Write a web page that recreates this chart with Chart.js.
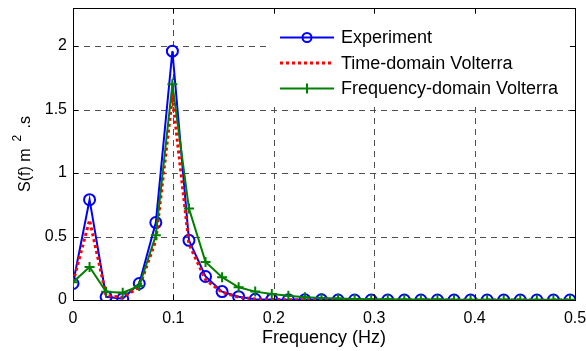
<!DOCTYPE html>
<html>
<head>
<meta charset="utf-8">
<script src="https://cdn.jsdelivr.net/npm/chart.js@4.4.0/dist/chart.umd.min.js"></script>
<style>
  html, body { margin: 0; padding: 0; background: #fff; }
  #wrap { width: 586px; height: 351px; position: relative; }
</style>
</head>
<body>
<div id="wrap"><canvas id="psd"></canvas></div>
<script>
/* frequences (Hz) et spectres S(f) */
const freq = [0, 0.0165, 0.033, 0.0495, 0.066, 0.0825, 0.099, 0.1155, 0.132, 0.1485,
              0.165, 0.1815, 0.198, 0.2145, 0.231, 0.2475, 0.264, 0.2805, 0.297, 0.3135,
              0.33, 0.3465, 0.363, 0.3795, 0.396, 0.4125, 0.429, 0.4455, 0.462, 0.4785, 0.495];
const experiment   = [0.13, 0.79, 0.025, 0.01, 0.13, 0.61, 1.96, 0.47, 0.185, 0.066,
                      0.026, 0.006, 0.003, 0.002, 0.001, 0.001, 0, 0, 0, 0,
                      0, 0, 0, 0, 0, 0, 0, 0, 0, 0, 0];
const timeVolterra = [0.14, 0.63, 0.035, 0.02, 0.1, 0.47, 1.6, 0.44, 0.16, 0.06,
                      0.022, 0.008, 0.004, 0.002, 0.001, 0.001, 0, 0, 0, 0,
                      0, 0, 0, 0, 0, 0, 0, 0, 0, 0, 0];
const freqVolterra = [0.14, 0.26, 0.065, 0.058, 0.11, 0.51, 1.70, 0.72, 0.30, 0.18,
                      0.10, 0.066, 0.047, 0.034, 0.022, 0.015, 0.011, 0.008, 0.006, 0.005,
                      0.004, 0.003, 0.003, 0.002, 0.002, 0.002, 0.001, 0.001, 0.001, 0.001, 0.001];
const xTicks = [0, 0.1, 0.2, 0.3, 0.4, 0.5];
const xTickLabels = ['0', '0.1', '0.2', '0.3', '0.4', '0.5'];
const yTicks = [0, 0.5, 1, 1.5, 2];
const yTickLabels = ['0', '0.5', '1', '1.5', '2'];
const seriesNames = ['Experiment', 'Time-domain Volterra', 'Frequency-domain Volterra'];

const FONT = '"Liberation Sans", Arial, sans-serif';
const pts = ys => freq.map((f, i) => ({ x: f, y: ys[i] }));

/* grille pointillee + cadre facon MATLAB, sous les courbes */
const axesBox = {
    id: 'axesBox',
    beforeDatasetsDraw(chart) {
        const { ctx, chartArea: a, scales: { x, y } } = chart;
        ctx.save();
        ctx.strokeStyle = '#505050';
        ctx.lineWidth = 1;
        ctx.setLineDash([6, 5]);
        xTicks.slice(1, -1).forEach(v => {
            const px = Math.round(x.getPixelForValue(v)) + 0.5;
            ctx.beginPath(); ctx.moveTo(px, a.top); ctx.lineTo(px, a.bottom); ctx.stroke();
        });
        yTicks.slice(1).forEach(v => {
            const py = Math.round(y.getPixelForValue(v)) + 0.5;
            ctx.beginPath(); ctx.moveTo(a.left, py); ctx.lineTo(a.right, py); ctx.stroke();
        });
        ctx.setLineDash([]);
        ctx.strokeStyle = '#000';
        ctx.strokeRect(a.left + 0.5, a.top + 0.5, a.right - a.left, a.bottom - a.top);
        ctx.restore();
    }
};

/* legende dans le coin haut droit + petits ticks interieurs */
const legendBox = {
    id: 'legendBox',
    afterDatasetsDraw(chart) {
        const { ctx, chartArea: a, scales: { x, y } } = chart;
        ctx.save();
        ctx.fillStyle = '#fff';
        ctx.fillRect(266, 16, a.right - 266, 91);

        const rows = [37.5, 63, 88.5];
        const x0 = 280, x1 = 334, xm = 307;
        // Experiment
        ctx.strokeStyle = '#0000ff'; ctx.lineWidth = 2;
        ctx.beginPath(); ctx.moveTo(x0, rows[0]); ctx.lineTo(x1, rows[0]); ctx.stroke();
        ctx.beginPath(); ctx.arc(xm, rows[0], 4.5, 0, Math.PI * 2); ctx.stroke();
        // Time-domain
        ctx.strokeStyle = '#ff0000'; ctx.lineWidth = 3; ctx.setLineDash([3, 3]);
        ctx.beginPath(); ctx.moveTo(x0, rows[1]); ctx.lineTo(x1, rows[1]); ctx.stroke();
        ctx.setLineDash([]);
        // Frequency-domain
        ctx.strokeStyle = '#008000'; ctx.lineWidth = 2;
        ctx.beginPath(); ctx.moveTo(x0, rows[2]); ctx.lineTo(x1, rows[2]); ctx.stroke();
        ctx.beginPath(); ctx.moveTo(xm, rows[2] - 5); ctx.lineTo(xm, rows[2] + 5); ctx.stroke();

        ctx.fillStyle = '#000';
        ctx.font = '18px ' + FONT;
        ctx.textBaseline = 'middle';
        ctx.textAlign = 'left';
        seriesNames.forEach((s, i) => ctx.fillText(s, 341, rows[i] + 1));

        // ticks interieurs sur les quatre cotes
        ctx.strokeStyle = '#000'; ctx.lineWidth = 1;
        const t = 5;
        xTicks.forEach(v => {
            const px = Math.round(x.getPixelForValue(v)) + 0.5;
            ctx.beginPath();
            ctx.moveTo(px, a.bottom); ctx.lineTo(px, a.bottom - t);
            ctx.moveTo(px, a.top); ctx.lineTo(px, a.top + t);
            ctx.stroke();
        });
        yTicks.forEach(v => {
            const py = Math.round(y.getPixelForValue(v)) + 0.5;
            ctx.beginPath();
            ctx.moveTo(a.left, py); ctx.lineTo(a.left + t, py);
            ctx.moveTo(a.right, py); ctx.lineTo(a.right - t, py);
            ctx.stroke();
        });
        ctx.restore();
    }
};

/* titres des axes, avec l'exposant du m^2 */
const axisTitles = {
    id: 'axisTitles',
    afterDraw(chart) {
        const { ctx, chartArea: a } = chart;
        ctx.save();
        ctx.fillStyle = '#000';
        ctx.font = '18px ' + FONT;
        ctx.textAlign = 'center';
        ctx.textBaseline = 'middle';
        ctx.fillText('Frequency (Hz)', (a.left + a.right) / 2, 338);

        ctx.translate(30, 192);
        ctx.rotate(-Math.PI / 2);
        ctx.textAlign = 'left';
        ctx.textBaseline = 'alphabetic';
        ctx.font = '16px ' + FONT;
        ctx.fillText('S(f) m', 0, 0);
        const w = ctx.measureText('S(f) m').width;
        ctx.font = '12px ' + FONT;
        ctx.fillText('2', w + 7, -9);
        ctx.font = '16px ' + FONT;
        ctx.fillText('.s', w + 20, 0);
        ctx.restore();
    }
};

new Chart(document.getElementById('psd'), {
    type: 'line',
    data: {
        datasets: [
            {
                label: seriesNames[0],
                data: pts(experiment),
                borderColor: '#0000ff',
                borderWidth: 2,
                pointStyle: 'circle',
                pointRadius: 5.5,
                pointBorderWidth: 2,
                pointBorderColor: '#0000ff',
                pointBackgroundColor: 'rgba(0,0,0,0)',
                tension: 0,
                order: 3,
            },
            {
                label: seriesNames[1],
                data: pts(timeVolterra),
                borderColor: '#ff0000',
                borderWidth: 3,
                borderDash: [3, 3],
                pointRadius: 0,
                tension: 0,
                order: 2,
            },
            {
                label: seriesNames[2],
                data: pts(freqVolterra),
                borderColor: '#008000',
                borderWidth: 2,
                pointStyle: 'cross',
                pointRadius: 5,
                pointBorderWidth: 2,
                pointBorderColor: '#008000',
                tension: 0,
                order: 1,
            }
        ]
    },
    options: {
        responsive: true,
        maintainAspectRatio: false,
        animation: false,
        layout: { padding: { top: 8, right: 11, left: 0, bottom: 0 } },
        plugins: { legend: { display: false }, tooltip: { enabled: false } },
        scales: {
            x: {
                type: 'linear', min: 0, max: 0.5,
                afterBuildTicks: s => { s.ticks = xTicks.map(v => ({ value: v })); },
                afterFit: s => { s.height = 51; s.paddingLeft = 0; s.paddingRight = 0; },
                grid: { display: false, drawTicks: false },
                border: { display: false },
                ticks: {
                    font: { family: FONT, size: 16 }, color: '#000', padding: 9, maxRotation: 0,
                    callback: (v, i) => xTickLabels[i]
                }
            },
            y: {
                type: 'linear', min: 0, max: 2.3,
                afterBuildTicks: s => { s.ticks = yTicks.map(v => ({ value: v })); },
                afterFit: s => { s.width = 73; s.paddingTop = 0; s.paddingBottom = 0; },
                grid: { display: false, drawTicks: false },
                border: { display: false },
                ticks: {
                    font: { family: FONT, size: 16 }, color: '#000', padding: 6,
                    callback: (v, i) => yTickLabels[i]
                }
            }
        }
    },
    plugins: [axesBox, legendBox, axisTitles]
});
</script>
</body>
</html>
